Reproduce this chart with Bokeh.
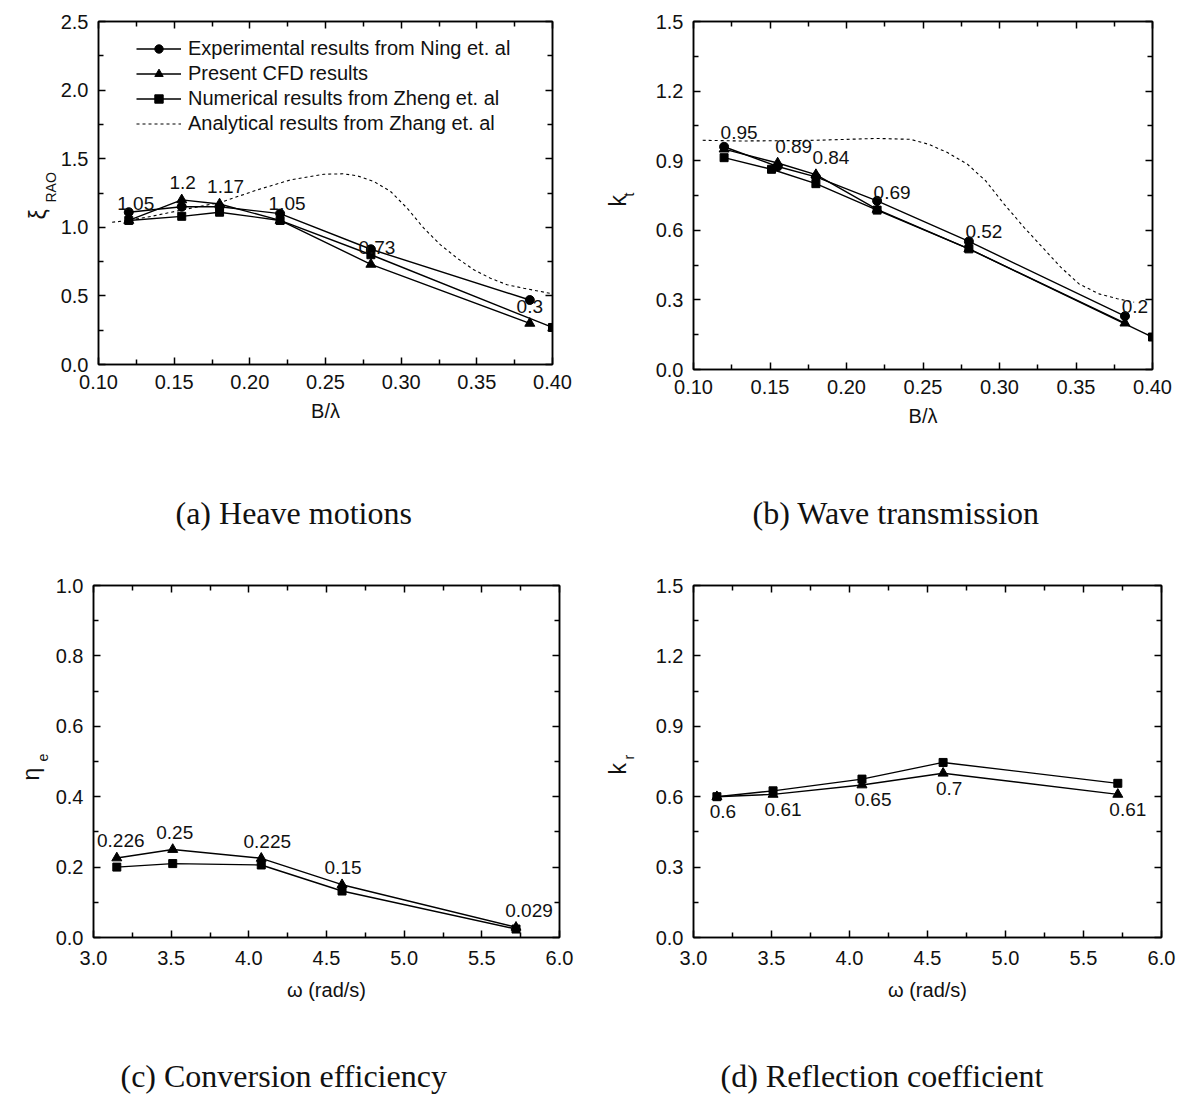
from bokeh.embed import file_html
from bokeh.layouts import column, row
from bokeh.models import (FixedTicker, Legend, LegendItem, LinearAxis,
                          NumeralTickFormatter, Range1d, Title)
from bokeh.core.properties import value
from bokeh.plotting import figure
from bokeh.resources import INLINE

SANS = "Liberation Sans"
SERIF = "Liberation Serif"

# ---------------- (a) heave motions ----------------
a_x_exp = [0.12, 0.155, 0.18, 0.22, 0.28, 0.385]
a_exp = [1.11, 1.15, 1.15, 1.10, 0.84, 0.47]
a_x_cfd = [0.12, 0.155, 0.18, 0.22, 0.28, 0.385]
a_cfd = [1.05, 1.20, 1.17, 1.05, 0.73, 0.30]
a_x_num = [0.12, 0.155, 0.18, 0.22, 0.28, 0.40]
a_num = [1.05, 1.08, 1.11, 1.05, 0.80, 0.27]
a_x_ana = [0.109, 0.12, 0.135, 0.156, 0.181, 0.205, 0.227, 0.249, 0.262, 0.271,
           0.282, 0.293, 0.304, 0.315, 0.326, 0.337, 0.348, 0.359, 0.370, 0.381, 0.400]
a_ana = [1.037, 1.05, 1.08, 1.128, 1.183, 1.273, 1.346, 1.387, 1.390, 1.375,
         1.334, 1.261, 1.139, 0.993, 0.872, 0.775, 0.690, 0.629, 0.581, 0.556, 0.515]
a_xticks = [0.10, 0.15, 0.20, 0.25, 0.30, 0.35, 0.40]
a_yticks = [0.0, 0.5, 1.0, 1.5, 2.0, 2.5]

# ---------------- (b) wave transmission ----------------
b_x_exp = [0.12, 0.155, 0.18, 0.22, 0.28, 0.382]
b_exp = [0.96, 0.875, 0.83, 0.727, 0.552, 0.23]
b_x_cfd = [0.12, 0.155, 0.18, 0.22, 0.28, 0.382]
b_cfd = [0.95, 0.89, 0.84, 0.69, 0.52, 0.2]
b_x_num = [0.12, 0.151, 0.18, 0.22, 0.28, 0.40]
b_num = [0.913, 0.863, 0.801, 0.687, 0.52, 0.14]
b_x_ana = [0.106, 0.131, 0.155, 0.18, 0.205, 0.22, 0.242, 0.254, 0.266, 0.279,
           0.291, 0.303, 0.316, 0.328, 0.340, 0.352, 0.365, 0.377, 0.388]
b_ana = [0.988, 0.985, 0.986, 0.988, 0.993, 0.996, 0.992, 0.970, 0.935, 0.885,
         0.813, 0.713, 0.613, 0.527, 0.441, 0.369, 0.326, 0.305, 0.29]
b_xticks = [0.10, 0.15, 0.20, 0.25, 0.30, 0.35, 0.40]
b_yticks = [0.0, 0.3, 0.6, 0.9, 1.2, 1.5]

# ---------------- (c) conversion efficiency ----------------
c_omega = [3.15, 3.51, 4.08, 4.60, 5.72]
c_cfd = [0.226, 0.25, 0.225, 0.15, 0.029]
c_num = [0.20, 0.21, 0.206, 0.132, 0.024]
c_xticks = [3.0, 3.5, 4.0, 4.5, 5.0, 5.5, 6.0]
c_yticks = [0.0, 0.2, 0.4, 0.6, 0.8, 1.0]

# ---------------- (d) reflection coefficient ----------------
d_omega = [3.15, 3.51, 4.08, 4.60, 5.72]
d_cfd = [0.60, 0.61, 0.65, 0.70, 0.61]
d_num = [0.60, 0.625, 0.675, 0.746, 0.657]
d_xticks = [3.0, 3.5, 4.0, 4.5, 5.0, 5.5, 6.0]
d_yticks = [0.0, 0.3, 0.6, 0.9, 1.2, 1.5]

legend_names = ["Experimental results from Ning et. al",
                "Present CFD results",
                "Numerical results from Zheng et. al",
                "Analytical results from Zhang et. al"]


def midpoints(ticks):
    return [(a + b) / 2 for a, b in zip(ticks[:-1], ticks[1:])]


def make_panel(xticks, yticks, xfmt, yfmt, fw, fh, borders, xlabel,
               tick_standoff=10, label_standoff=8):
    left, right, top, bottom = borders
    p = figure(frame_width=fw, frame_height=fh,
               x_range=Range1d(xticks[0], xticks[-1]),
               y_range=Range1d(yticks[0], yticks[-1]),
               output_backend="svg", toolbar_location=None,
               min_border_left=left, min_border_right=right,
               min_border_top=top, min_border_bottom=bottom,
               background_fill_color="white", border_fill_color="white")
    p.grid.visible = False
    p.outline_line_color = "black"
    p.outline_line_width = 1.5

    xa, ya = p.xaxis[0], p.yaxis[0]
    xa.ticker = FixedTicker(ticks=xticks, minor_ticks=midpoints(xticks))
    ya.ticker = FixedTicker(ticks=yticks, minor_ticks=midpoints(yticks))
    xa.formatter = NumeralTickFormatter(format=xfmt)
    ya.formatter = NumeralTickFormatter(format=yfmt)
    xa.major_label_standoff = tick_standoff
    ya.major_label_standoff = 10
    xa.axis_label = xlabel
    xa.axis_label_standoff = label_standoff
    xa.axis_label_text_font = SANS
    xa.axis_label_text_font_size = "20px"
    xa.axis_label_text_font_style = "normal"
    xa.axis_label_text_color = "#111111"

    for ax in (xa, ya):
        ax.major_label_text_font = SANS
        ax.major_label_text_font_size = "20px"
        ax.major_label_text_color = "#111111"

    # mirrored tick marks on the top and right edges, without numbers
    top_ax = LinearAxis(ticker=FixedTicker(ticks=xticks, minor_ticks=midpoints(xticks)))
    right_ax = LinearAxis(ticker=FixedTicker(ticks=yticks, minor_ticks=midpoints(yticks)))
    for ax in (top_ax, right_ax):
        ax.major_label_text_font_size = "1px"
        ax.major_label_text_color = None
        ax.major_label_standoff = 0
    p.add_layout(top_ax, "above")
    p.add_layout(right_ax, "right")

    for ax in (xa, ya, top_ax, right_ax):
        ax.axis_line_color = "black"
        ax.axis_line_width = 1.5
        ax.major_tick_in = 7
        ax.major_tick_out = 0
        ax.minor_tick_in = 5
        ax.minor_tick_out = 0
        ax.major_tick_line_color = "black"
        ax.minor_tick_line_color = "black"
        ax.major_tick_line_width = 1.5
        ax.minor_tick_line_width = 1.5
    return p


def series(p, x, y, marker, size):
    ln = p.line(x, y, line_color="black", line_width=1.4)
    sc = p.scatter(x, y, marker=marker, size=size, fill_color="black", line_color="black")
    return ln, sc


def value_labels(p, x, y, dx, dy):
    p.text(x=x, y=y, text=[f"{v:g}" for v in y],
           x_offset=dx, y_offset=dy,
           text_font=value(SANS), text_font_size="19px", text_color="#111111",
           text_align="center", text_baseline="middle")


def y_title(p, main, sub, main_offset, sub_offset, sub_standoff, main_standoff):
    """Vertical axis title with a subscript, built from two side titles.
    Offsets are pixels from the frame bottom to the start of each text."""
    p.add_layout(Title(text=sub, align="left", offset=sub_offset, standoff=sub_standoff,
                       text_font=SANS, text_font_size="14px", text_font_style="normal",
                       text_color="#111111"), "left")
    p.add_layout(Title(text=main, align="left", offset=main_offset, standoff=main_standoff,
                       text_font=SANS, text_font_size="23px", text_font_style="normal",
                       text_color="#111111"), "left")


def caption(p, txt, dx, gap):
    """Sub-figure caption under the axis title; `gap` is blank space above it,
    reserved by a bare axis whose single outward tick is drawn in white."""
    spacer = LinearAxis(ticker=FixedTicker(ticks=[p.x_range.start], minor_ticks=[]),
                        axis_line_color=None,
                        major_tick_in=0, major_tick_out=gap,
                        minor_tick_in=0, minor_tick_out=0,
                        major_tick_line_color="white", major_tick_line_width=1,
                        major_label_text_font_size="1px", major_label_text_color=None,
                        major_label_standoff=0)
    p.add_layout(spacer, "below")
    p.add_layout(Title(text=txt, align="left", offset=dx, standoff=0, vertical_align="top",
                       text_font=SERIF, text_font_size="32px", text_font_style="normal",
                       text_color="#111111"), "below")


# ---------- panel (a) ----------
pa = make_panel(a_xticks, a_yticks, "0.00", "0.0", 454, 343, (98, 48, 20, 197), "B/λ")
ea = series(pa, a_x_exp, a_exp, "circle", 9)
ca = series(pa, a_x_cfd, a_cfd, "triangle", 10)
na = series(pa, a_x_num, a_num, "square", 8)
an = pa.line(a_x_ana, a_ana, line_color="black", line_width=1.1, line_dash="3 3")
value_labels(pa, a_x_cfd, a_cfd, [7, 1, 6, 7, 6, 0], -17)
legend = Legend(items=[LegendItem(label=legend_names[0], renderers=list(ea)),
                       LegendItem(label=legend_names[1], renderers=list(ca)),
                       LegendItem(label=legend_names[2], renderers=list(na)),
                       LegendItem(label=legend_names[3], renderers=[an])],
                location=(38, 229), background_fill_alpha=0, border_line_color=None,
                label_text_font=SANS, label_text_font_size="20px", label_text_color="#111111",
                glyph_width=45, glyph_height=21, label_height=21, spacing=2,
                padding=5, label_standoff=7, margin=0)
pa.add_layout(legend)
y_title(pa, "ξ", "RAO", 145, 162, -2, -18)
caption(pa, "(a) Heave motions", 77, 70)

# ---------- panel (b) ----------
pb = make_panel(b_xticks, b_yticks, "0.00", "0.0", 459, 348, (93, 29, 21, 191), "B/λ")
series(pb, b_x_exp, b_exp, "circle", 9)
series(pb, b_x_cfd, b_cfd, "triangle", 10)
series(pb, b_x_num, b_num, "square", 8)
pb.line(b_x_ana, b_ana, line_color="black", line_width=1.1, line_dash="3 3")
value_labels(pb, b_x_cfd, b_cfd, [15, 16, 15, 15, 15, 10], -17)
y_title(pb, "k", "t", 163, 173, 32, -56)
caption(pb, "(b) Wave transmission", 59, 65)

# ---------- panel (c) ----------
pc = make_panel(c_xticks, c_yticks, "0.0", "0.0", 466, 352, (93, 41, 25, 159), "ω (rad/s)",
                tick_standoff=13, label_standoff=11)
series(pc, c_omega, c_cfd, "triangle", 10)
series(pc, c_omega, c_num, "square", 8)
value_labels(pc, c_omega, c_cfd, [4, 2, 6, 1, 13], -17)
y_title(pc, "η", "e", 157, 176, 10, -26)
caption(pc, "(c) Conversion efficiency", 27, 54)

# ---------- panel (d) ----------
pd_ = make_panel(d_xticks, d_yticks, "0.0", "0.0", 468, 352, (93, 20, 25, 159), "ω (rad/s)",
                 tick_standoff=13, label_standoff=11)
series(pd_, d_omega, d_num, "square", 8)
series(pd_, d_omega, d_cfd, "triangle", 10)
value_labels(pd_, d_omega, d_cfd, [6, 10, 11, 6, 10], 15)
y_title(pd_, "k", "r", 163, 178, 32, -56)
caption(pd_, "(d) Reflection coefficient", 27, 54)

layout = column(row(pa, pb), row(pc, pd_))
open("out.html", "w").write(file_html(layout, INLINE))
